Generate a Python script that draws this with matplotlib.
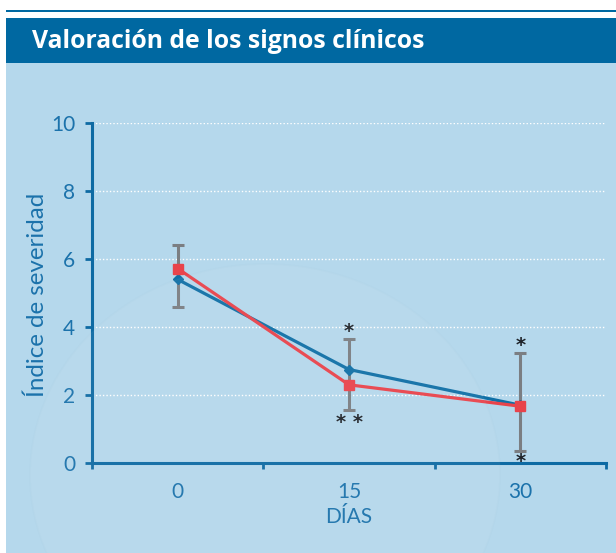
#!/usr/bin/env python3
"""Valoración de los signos clínicos: severity index over days."""
import matplotlib
matplotlib.use('Agg')
import matplotlib.pyplot as plt
from matplotlib.patches import Rectangle, Circle

plt.rcParams['font.family'] = ['Lato', 'DejaVu Sans']

# data
dias = ['0', '15', '30']
blue_vals = [5.4, 2.75, 1.7]
red_vals = [5.72, 2.3, 1.67]
err_low = [4.6, 1.56, 0.35]
err_high = [6.42, 3.65, 3.25]
star_top_y = [None, 3.88, 3.45]
star_bot_y = [None, 1.2, 0.05]
star_bot_txt = [None, '* *', '*']
yticks = [0, 2, 4, 6, 8, 10]

BG = '#b5d8ec'
HEAD = '#0068a1'
AXC = '#0d6aa3'
TXT = '#1b72ab'
BLUE = '#0f6fa6'
RED = '#e8434b'
GREY = '#7b7e82'

W, H = 616, 553
fig = plt.figure(figsize=(W / 100, H / 100), dpi=100)
fig.patch.set_facecolor('white')


def px(x0, y0, w, h, **kw):
    # rectangle in pixel coords (top-left origin)
    fig.add_artist(Rectangle((x0 / W, 1 - (y0 + h) / H), w / W, h / H,
                             transform=fig.transFigure, lw=0, **kw))


def fit_width(t, target_px):
    # scale a text's font size so that its long side spans target_px
    r = fig.canvas.get_renderer()
    bb = t.get_window_extent(renderer=r)
    span = max(bb.width, bb.height)
    t.set_fontsize(t.get_fontsize() * target_px / span)


px(6, 63, 610, 490, facecolor=BG, zorder=0)
px(6, 10, 610, 2, facecolor=HEAD, zorder=1)
px(6, 18, 610, 45, facecolor=HEAD, zorder=1)
# faint decorative circle in the background
fig.add_artist(Circle((265 / W, 1 - 475 / H), 235 / W, transform=fig.transFigure,
                      facecolor='white', alpha=0.05, edgecolor='#8fb2c8', lw=1.2, zorder=0.5))
title = fig.text(32 / W, 1 - 42 / H, 'Valoración de los signos clínicos', color='white',
                 fontsize=16, fontweight='bold', va='center', ha='left',
                 family=['Open Sans', 'DejaVu Sans'])
fit_width(title, 393)

ax = fig.add_axes([92 / W, 1 - 463 / H, 514 / W, 340 / H])
ax.set_facecolor('none')
x = list(range(len(dias)))

mid = [(lo + hi) / 2 for lo, hi in zip(err_low, err_high)]
half = [(hi - lo) / 2 for lo, hi in zip(err_low, err_high)]
ax.errorbar(x, mid, yerr=half, fmt='none', ecolor=GREY, elinewidth=2.2,
            capsize=4.5, capthick=2.2, zorder=2, clip_on=False)
ax.plot(x, blue_vals, color=BLUE, lw=2.3, marker='D', ms=5.5, zorder=3, clip_on=False)
ax.plot(x, red_vals, color=RED, lw=2.3, marker='s', ms=7.5, zorder=4, clip_on=False)

for i in x:
    if star_top_y[i] is not None:
        ax.text(i, star_top_y[i], '*', ha='center', va='center', fontsize=14,
                fontweight='bold', color='#1e2228', family='DejaVu Sans')
    if star_bot_y[i] is not None:
        ax.text(i, star_bot_y[i], star_bot_txt[i], ha='center', va='center', fontsize=14,
                fontweight='bold', color='#1e2228', family='DejaVu Sans')

ax.set_xlim(-0.5, 2.5)
ax.set_ylim(0, 10)
ax.set_yticks(yticks)
ax.set_yticklabels([str(v) for v in yticks])
ax.set_xticks([-0.5, 0.5, 1.5, 2.5])
ax.set_xticklabels([])
ax.set_xticks(x, minor=True)
ax.set_xticklabels(dias, minor=True)
ax.tick_params(axis='x', which='major', direction='out', length=4, width=2, color=AXC)
ax.tick_params(axis='x', which='minor', length=0, pad=14, labelsize=15, labelcolor=TXT)
ax.tick_params(axis='y', direction='out', length=5, width=2, color=AXC, pad=7,
               labelsize=15, labelcolor=TXT)

for y in yticks[1:]:
    ax.axhline(y, color='white', lw=1, ls=(0, (1, 1.5)), zorder=1)

for side in ['top', 'right']:
    ax.spines[side].set_visible(False)
for side in ['left', 'bottom']:
    ax.spines[side].set_color(AXC)
    ax.spines[side].set_linewidth(2.2)

ax.set_xlabel('DÍAS', color=TXT, fontsize=15, labelpad=3)
ylab = ax.set_ylabel('Índice de severidad', color=TXT, fontsize=15)
fit_width(ylab, 205)
ax.yaxis.set_label_coords((48 - 92) / 514, (463 - 295) / 340)

fig.savefig('out.png', dpi=100, facecolor=fig.get_facecolor())
